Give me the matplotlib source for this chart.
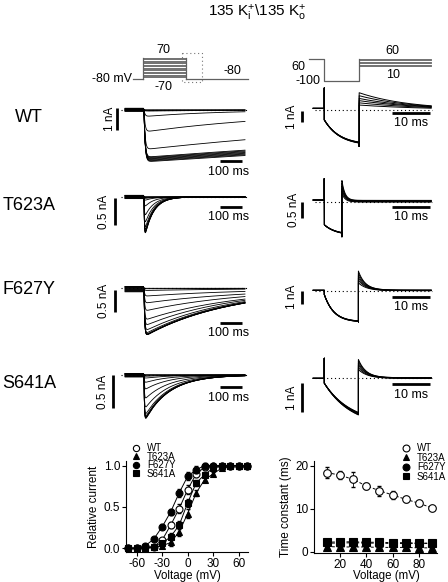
import numpy as np
import matplotlib
matplotlib.use('Agg')
import matplotlib.pyplot as plt

plt.rcParams['font.family'] = ['Liberation Sans', 'DejaVu Sans']
plt.rcParams['mathtext.fontset'] = 'custom'
plt.rcParams['mathtext.rm'] = 'Liberation Sans'
plt.rcParams['mathtext.it'] = 'Liberation Sans:italic'
plt.rcParams['mathtext.bf'] = 'Liberation Sans:bold'
plt.rcParams['axes.unicode_minus'] = False

# ---------------- data ----------------
rows = ['WT', 'T623A', 'F627Y', 'S641A']

# voltage protocols (mV)
prot_left_steps = [-70, -60, -50, -40, -30, -20, -10, 0, 10, 20, 30, 40, 50, 60, 70]
prot_left_hold = -80
prot_right_pre = 60
prot_right_hyper = -100
prot_right_steps = [10, 20, 30, 40, 50, 60]

# left column: tail currents at -80 mV after each prepulse (nA, ms)
tail_pre = {
    'WT':    [-0.06, -0.05, -0.04, -0.03, -0.02, -0.01, 0.0, 0.01, 0.02, 0.03, 0.04, 0.05, 0.06, 0.07, 0.08],
    'T623A': [-0.03, -0.025, -0.02, -0.015, -0.01, -0.005, 0.0, 0.005, 0.01, 0.015, 0.02, 0.025, 0.03, 0.03, 0.03],
    'F627Y': [-0.08, -0.07, -0.06, -0.05, -0.04, -0.03, -0.02, -0.01, 0.0, 0.01, 0.02, 0.03, 0.03, 0.04, 0.04],
    'S641A': [-0.03, -0.025, -0.02, -0.015, -0.01, -0.005, 0.0, 0.005, 0.01, 0.01, 0.015, 0.02, 0.02, 0.02, 0.02],
}
tail_peak = {
    'WT':    [0.0, 0.0, 0.02, 0.05, 0.3, 1.0, 1.8, 2.15, 2.18, 2.21, 2.24, 2.27, 2.3, 2.33, 2.36],
    'T623A': [0.0, 0.0, 0.0, 0.01, 0.03, 0.07, 0.2, 0.4, 0.56, 0.67, 0.73, 0.77, 0.79, 0.8, 0.81],
    'F627Y': [0.0, 0.01, 0.05, 0.18, 0.34, 0.52, 0.73, 0.86, 0.98, 1.05, 1.08, 1.09, 1.1, 1.1, 1.1],
    'S641A': [0.0, 0.0, 0.0, 0.02, 0.05, 0.12, 0.23, 0.38, 0.53, 0.64, 0.68, 0.7, 0.71, 0.71, 0.72],
}
tail_tau = {
    'WT':    [300, 300, 300, 340, 345, 700, 1600, 2800, 2900, 3000, 3100, 3200, 3300, 3400, 3500],
    'T623A': [40] * 15,
    'F627Y': [480, 480, 480, 490, 480, 450, 420, 400, 390, 385, 385, 385, 385, 385, 385],
    'S641A': [110] * 15,
}
tail_rise = {'WT': 5.0, 'T623A': 2.0, 'F627Y': 3.0, 'S641A': 2.0}

# right column: currents at -100 mV and tails at +10..+60 mV (nA, ms)
hyp_end = {'WT': 9.1, 'T623A': 4.6, 'F627Y': 8.9, 'S641A': 8.9}
hyp_hold = {'WT': 0.15, 'T623A': 0.05, 'F627Y': 0.03, 'S641A': 0.0}
hyp_spike_on = {'WT': 2.0, 'T623A': 0.7, 'F627Y': 0.03, 'S641A': 0.69}
hyp_i0 = {'WT': 0.9, 'T623A': 0.7, 'F627Y': 0.3, 'S641A': 0.17}
hyp_amp = {
    'WT':    [2.25, 2.27, 2.29, 2.31, 2.33, 2.35],
    'T623A': [0.30, 0.30, 0.31, 0.31, 0.32, 0.32],
    'F627Y': [2.08, 2.09, 2.1, 2.11, 2.12, 2.13],
    'S641A': [1.40, 1.42, 1.45, 1.48, 1.50, 1.52],
}
hyp_tau = {'WT': 4.0, 'T623A': 3.0, 'F627Y': 2.5, 'S641A': 7.0}
hyp_spike_off = {'WT': -3.3, 'T623A': -1.06, 'F627Y': -2.4, 'S641A': -1.25}
rtail_amp = {
    'WT':    [0.45, 0.65, 0.85, 1.05, 1.3, 1.57],
    'T623A': [0.25, 0.32, 0.39, 0.46, 0.53, 0.6],
    'F627Y': [0.6, 0.78, 0.95, 1.12, 1.3, 1.46],
    'S641A': [0.3, 0.37, 0.44, 0.51, 0.58, 0.63],
}
rtail_tau = {
    'WT':    [18.4, 17.8, 16.8, 15.3, 14.2, 13.2],
    'T623A': [0.9, 0.9, 0.85, 0.85, 0.8, 0.8],
    'F627Y': [2.2, 2.1, 2.0, 1.9, 1.9, 1.8],
    'S641A': [2.4, 2.3, 2.2, 2.1, 2.0, 2.0],
}
rtail_ss = {
    'WT':    [0.0, 0.0, 0.0, 0.0, 0.0, 0.0],
    'T623A': [-0.01, 0.0, 0.01, 0.02, 0.03, 0.04],
    'F627Y': [0.0, 0.01, 0.02, 0.03, 0.04, 0.05],
    'S641A': [0.0, 0.0, 0.01, 0.01, 0.02, 0.02],
}

# activation curves
volt_act = [-70, -60, -50, -40, -30, -20, -10, 0, 10, 20, 30, 40, 50, 60, 70]
wt_act = [0.0, 0.0, 0.01, 0.02, 0.1, 0.28, 0.48, 0.71, 0.9, 0.98, 1.0, 1.0, 1.0, 1.0, 1.0]
t623a_act = [0.0, 0.0, 0.0, 0.01, 0.03, 0.07, 0.2, 0.42, 0.67, 0.83, 0.9, 0.97, 0.99, 1.0, 1.0]
f627y_act = [0.0, 0.0, 0.03, 0.11, 0.26, 0.44, 0.67, 0.87, 0.95, 1.0, 1.0, 1.0, 1.0, 1.0, 1.0]
s641a_act = [0.0, 0.0, 0.0, 0.02, 0.06, 0.14, 0.28, 0.55, 0.79, 0.89, 0.97, 1.0, 1.0, 1.0, 1.0]
act_err = [0.01, 0.01, 0.01, 0.02, 0.03, 0.04, 0.05, 0.05, 0.04, 0.03, 0.02, 0.02, 0.02, 0.02, 0.02]

# deactivation time constants
volt_tau = [10, 20, 30, 40, 50, 60, 70, 80, 90]
wt_tau = [18.4, 17.8, 16.8, 15.3, 14.2, 13.2, 12.2, 11.3, 10.2]
wt_tau_err = [1.3, 1.0, 1.8, 0.6, 1.2, 1.0, 0.6, 0.4, 0.5]
t623a_tau = [1.2, 1.1, 1.1, 1.1, 1.0, 1.0, 1.0, 0.9, 0.9]
f627y_tau = [2.0, 2.0, 2.1, 2.0, 2.0, 1.9, 1.9, 1.9, 1.9]
s641a_tau = [2.2, 2.3, 2.3, 2.2, 2.2, 2.1, 2.1, 2.0, 2.0]
mut_tau_err = [0.4, 0.4, 0.4, 0.4, 0.4, 0.4, 0.4, 0.4, 0.4]

# ---------------- layout ----------------
W, H = 448, 582
fig = plt.figure(figsize=(W / 100, H / 100), dpi=100)


def panel(x0, x1, y0, y1, xref_px, x_per_px, yref_px, y_per_px):
    ax = fig.add_axes([x0 / W, 1 - y1 / H, (x1 - x0) / W, (y1 - y0) / H])
    ax.set_xlim((x0 - xref_px) * x_per_px, (x1 - xref_px) * x_per_px)
    ax.set_ylim(-(y1 - yref_px) * y_per_px, (yref_px - y0) * y_per_px)
    ax.axis('off')
    return ax


def ftext(x, y, s, **kw):
    fig.text(x / W, 1 - y / H, s, **kw)


ftext(257, 13, r'135 K$^{+}_{\mathrm{i}}$\135 K$^{+}_{\mathrm{o}}$', ha='center', va='center', fontsize=11)

# left protocol
pc = '#606060'
ax = panel(125, 255, 45, 90, 142.7, 4.65, 67.5, 1 / 0.14)
ax.plot([-44, 0], [prot_left_hold] * 2, color=pc, lw=0.9)
ax.plot([200, 491], [prot_left_hold] * 2, color=pc, lw=0.9)
for v in prot_left_steps:
    ax.plot([0, 200], [v, v], color='#5a5a5a', lw=0.6)
ax.plot([0, 0], [prot_left_hold, max(prot_left_steps)], color=pc, lw=0.9)
ax.plot([200, 200], [prot_left_hold, max(prot_left_steps)], color=pc, lw=0.9)
ax.plot([181, 274, 274, 181, 181], [101, 101, -101, -101, 101], color='#777777', lw=0.8,
        ls=(0, (1, 2.5)))
ftext(132, 78.5, '-80 mV', ha='right', va='center', fontsize=9)
ftext(163.3, 50, '70', ha='center', va='center', fontsize=9)
ftext(163.3, 86.5, '-70', ha='center', va='center', fontsize=9)
ftext(232.3, 71.5, '-80', ha='center', va='center', fontsize=9)

# right protocol
ax = panel(300, 440, 45, 90, 324.3, 0.261, 67.25, 1 / 0.1375)
ax.plot([-3.9, 0, 0, 9.1, 9.1], [prot_right_pre, prot_right_pre, prot_right_hyper, prot_right_hyper,
                                  max(prot_right_steps)], color=pc, lw=0.9)
for v in prot_right_steps:
    ax.plot([9.1, 27.9], [v, v], color='#5a5a5a', lw=0.6)
ftext(305, 66.5, '60', ha='right', va='center', fontsize=9)
ftext(320, 80.5, '-100', ha='right', va='center', fontsize=9)
ftext(392.7, 51.5, '60', ha='center', va='center', fontsize=9)
ftext(392.7, 75, '10', ha='center', va='center', fontsize=9)

# trace rows: pixel geometry
left_geo = {  # y0, y1, baseline px, px per nA
    'WT': (92, 182, 110, 22), 'T623A': (180, 250, 197, 54),
    'F627Y': (270, 345, 288.3, 44), 'S641A': (362, 432, 375, 66)}
right_geo = {
    'WT': (80, 155, 110, 11), 'T623A': (172, 245, 201.7, 33),
    'F627Y': (265, 330, 290.7, 13), 'S641A': (352, 420, 378.3, 29)}
# scale bars (data units)
left_vbar = {'WT': (-123, 0.09, 1.0, '1 nA', -155), 'T623A': (-132, -0.02, 0.5, '0.5 nA', -182),
             'F627Y': (-132, -0.04, 0.5, '0.5 nA', -182), 'S641A': (-140, 0.0, 0.5, '0.5 nA', -186)}
left_hbar = {'WT': (-2.32, -2.80), 'T623A': (-0.185, -0.37), 'F627Y': (-0.78, -1.02), 'S641A': (-0.18, -0.35)}
right_vbar = {'WT': (-5.8, -0.09, 1.0, '1 nA', -8.3), 'T623A': (-5.8, 0.0, 0.5, '0.5 nA', -8.0),
              'F627Y': (-5.8, 0.0, 1.0, '1 nA', -8.3), 'S641A': (-5.8, -0.17, 1.0, '1 nA', -8.3)}
right_hbar = {'WT': (-0.30, -1.21), 'T623A': (-0.17, -0.45), 'F627Y': (-0.46, -1.23), 'S641A': (-0.2, -0.58)}
row_label_y = {'WT': 118, 'T623A': 205, 'F627Y': 290, 'S641A': 384}

dot = (0, (1, 2.5))
for name in rows:
    ftext(29, row_label_y[name], name, ha='center', va='center', fontsize=13)

    # ---- left column ----
    y0, y1, base, pxn = left_geo[name]
    ax = panel(95, 255, y0, y1, 144, 100 / 22, base, 1 / pxn)
    t = np.concatenate([np.linspace(-86, 0, 40), np.linspace(0, 459, 900)])
    for pre, pk, tau in zip(tail_pre[name], tail_peak[name], tail_tau[name]):
        i = np.where(t < 0, pre, -pk * (1 - np.exp(-t / tail_rise[name])) * np.exp(-t / tau))
        ax.plot(t, i, color='black', lw=0.6, clip_on=False)
    ax.plot([-105, 468], [0, 0], color='black', lw=0.8, ls=dot, clip_on=False)
    xb, top, size, lab, xl = left_vbar[name]
    ax.plot([xb, xb], [top, top - size], color='black', lw=2, solid_capstyle='butt', clip_on=False)
    ax.text(xl, top - size / 2, lab, rotation=90, ha='center', va='center', fontsize=8.5, clip_on=False)
    hb, hl = left_hbar[name]
    ax.plot([345, 445], [hb, hb], color='black', lw=2, solid_capstyle='butt', clip_on=False)
    ax.text(386, hl, '100 ms', ha='center', va='center', fontsize=9, clip_on=False)

    # ---- right column ----
    y0, y1, base, pxn = right_geo[name]
    ax = panel(280, 440, y0, y1, 324.3, 0.261, base, 1 / pxn)
    te = hyp_end[name]
    for k in range(len(prot_right_steps)):
        t1 = np.linspace(-2.9, 0, 10)
        i1 = np.full_like(t1, hyp_hold[name])
        t2 = np.linspace(0, te, 200)
        i2 = -(hyp_i0[name] + hyp_amp[name][k] * (1 - np.exp(-t2 / hyp_tau[name])))
        t3 = np.linspace(te, 27.9, 400)
        i3 = rtail_ss[name][k] + rtail_amp[name][k] * np.exp(-(t3 - te) / rtail_tau[name][k])
        tt = np.concatenate([t1, [0], t2, [te], t3])
        ii = np.concatenate([i1, [hyp_spike_on[name]], i2, [hyp_spike_off[name]], i3])
        ax.plot(tt, ii, color='black', lw=0.7, clip_on=False)
    ax.plot([-2.4, 28], [0, 0], color='black', lw=0.8, ls=dot, clip_on=False)
    xb, top, size, lab, xl = right_vbar[name]
    ax.plot([xb, xb], [top, top - size], color='black', lw=2, solid_capstyle='butt', clip_on=False)
    ax.text(xl, top - size / 2, lab, rotation=90, ha='center', va='center', fontsize=8.5, clip_on=False)
    hb, hl = right_hbar[name]
    ax.plot([17.6, 27.6], [hb, hb], color='black', lw=2, solid_capstyle='butt', clip_on=False)
    ax.text(22.6, hl, '10 ms', ha='center', va='center', fontsize=9, clip_on=False)


def style(ax):
    for s in ['top', 'right']:
        ax.spines[s].set_visible(False)
    for s in ['left', 'bottom']:
        ax.spines[s].set_linewidth(0.8)
    ax.tick_params(direction='out', length=3, width=0.8, labelsize=8.5, pad=1)


markers = [('WT', 'o', 'white'), ('T623A', '^', 'black'), ('F627Y', 'o', 'black'), ('S641A', 's', 'black')]

# ---- activation curves ----
ax = fig.add_axes([126 / W, 1 - 552 / H, 122 / W, 91 / H])
style(ax)
for (lab, m, fc), ys in zip(markers, [wt_act, t623a_act, f627y_act, s641a_act]):
    ax.plot(volt_act, ys, color='black', lw=0.7, clip_on=False)
    ax.errorbar(volt_act, ys, yerr=act_err, fmt='none', ecolor='black', elinewidth=0.6, capsize=1.2,
                clip_on=False)
    ax.plot(volt_act, ys, ls='none', marker=m, ms=5, mfc=fc, mec='black', mew=0.8, label=lab,
            clip_on=False)
ax.set_xlim(-72.6, 71)
ax.set_ylim(-0.045, 1.055)
ax.set_xticks([-60, -30, 0, 30, 60])
ax.set_yticks([0.0, 0.5, 1.0])
ax.set_yticklabels(['0.0', '0.5', '1.0'])
ax.set_xlabel('Voltage (mV)', fontsize=8.3, va='top')
ax.xaxis.set_label_coords(0.5, -0.195)
ax.set_ylabel('Relative current', fontsize=8.5, labelpad=3)
ax.legend(loc='upper left', bbox_to_anchor=(131.5 / W, 1 - 443 / H), bbox_transform=fig.transFigure,
          frameon=False, fontsize=7, handlelength=1.0, handletextpad=0.6, labelspacing=-0.15,
          borderpad=0, borderaxespad=0, markerscale=0.9)

# ---- time constants ----
ax = fig.add_axes([314 / W, 1 - 553.3 / H, 123 / W, 92.3 / H])
style(ax)
series = [wt_tau, t623a_tau, f627y_tau, s641a_tau]
errs = [wt_tau_err, mut_tau_err, mut_tau_err, mut_tau_err]
for (lab, m, fc), ys, er in zip(markers, series, errs):
    ax.plot(volt_tau, ys, color='black', lw=0.7, ls=(0, (3, 2)))
    ax.errorbar(volt_tau, ys, yerr=er, fmt='none', ecolor='black', elinewidth=0.6, capsize=1.2)
    ax.plot(volt_tau, ys, ls='none', marker=m, ms=5.5, mfc=fc, mec='black', mew=0.8, label=lab,
            clip_on=False)
ax.set_xlim(0, 94)
ax.set_ylim(-0.37, 21.1)
ax.set_xticks([20, 40, 60, 80])
ax.set_yticks([0, 10, 20])
ax.set_xlabel('Voltage (mV)', fontsize=8.3, va='top')
ax.xaxis.set_label_coords(0.59, -0.178)
ax.set_ylabel('Time constant (ms)', fontsize=8.5, labelpad=2)
ax.legend(loc='upper left', bbox_to_anchor=(401.5 / W, 1 - 443 / H), bbox_transform=fig.transFigure,
          frameon=False, fontsize=7, handlelength=1.0, handletextpad=0.6, labelspacing=-0.05,
          borderpad=0, borderaxespad=0, markerscale=0.9)

fig.savefig('out.png', dpi=100)
